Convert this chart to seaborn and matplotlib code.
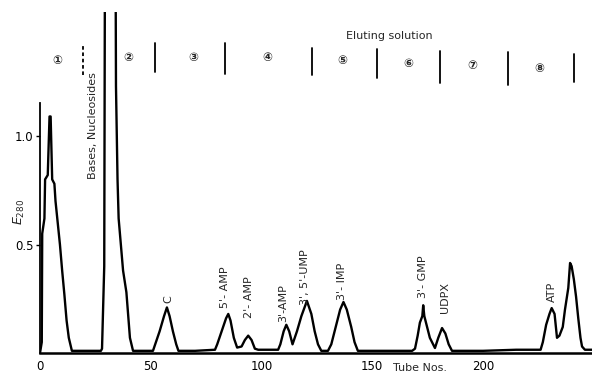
import matplotlib
matplotlib.use("Agg")
import matplotlib.pyplot as plt
import seaborn as sns
import pandas as pd

# ---- data ----
tube = [0, 0.8, 1, 2, 2.3, 3.5, 4.3, 4.8, 5.5, 6.5, 7, 8, 9, 10, 11, 12, 13, 14.4,
        20, 27.5,
        28, 29, 29.4, 34, 34.3, 35, 35.5, 37.5, 39, 40.6, 42,
        46, 51,
        52, 54, 56, 57.3, 58.5, 60, 61.5, 62.5,
        70, 79,
        80, 82, 84, 85, 86, 87.5, 89, 91, 92.5, 94, 95.5, 97, 98.5,
        104, 107.5,
        108.5, 110, 111.2, 112.5, 114, 116, 118, 120.5, 122.5, 124, 125.5, 127,
        130,
        131.5, 133.5, 135.5, 137, 138.5, 140.5, 142, 143.5,
        160, 168,
        169.3, 170.5, 171.5, 172.6, 173, 173.5, 174.5, 176, 178.3, 179.8, 181.5, 183, 184.5, 186,
        200, 215, 226,
        227, 228.5, 230, 231, 232.3, 233.4, 234.5, 236, 237, 238.5, 239.3, 240, 241, 242, 243, 244, 244.7, 246, 249.2]
absorbance = [0, 0.05, 0.55, 0.62, 0.8, 0.82, 1.09, 1.09, 0.8, 0.78, 0.7, 0.6, 0.5, 0.38, 0.27, 0.15, 0.07, 0.01,
              0.01, 0.01,
              0.02, 0.4, 2.2, 2.2, 1.23, 0.8, 0.62, 0.38, 0.28, 0.07, 0.01,
              0.01, 0.01,
              0.04, 0.1, 0.17, 0.21, 0.17, 0.1, 0.04, 0.01,
              0.01, 0.015,
              0.04, 0.1, 0.16, 0.18, 0.15, 0.07, 0.025, 0.03, 0.06, 0.08, 0.06, 0.02, 0.015,
              0.015, 0.015,
              0.04, 0.1, 0.13, 0.1, 0.04, 0.1, 0.17, 0.24, 0.18, 0.1, 0.04, 0.01,
              0.01,
              0.04, 0.12, 0.2, 0.235, 0.2, 0.12, 0.05, 0.01,
              0.01, 0.01,
              0.02, 0.08, 0.14, 0.17, 0.22, 0.17, 0.13, 0.07, 0.023, 0.07, 0.115, 0.09, 0.04, 0.01,
              0.01, 0.015, 0.015,
              0.05, 0.13, 0.18, 0.207, 0.18, 0.07, 0.08, 0.12, 0.2, 0.3, 0.415, 0.4, 0.34, 0.26, 0.16, 0.07, 0.03, 0.015, 0.015]

peak_labels = ["Bases, Nucleosides", "C", "5'- AMP", "2'- AMP", "3'-AMP",
               "3', 5'-UMP", "3'- IMP", "3'- GMP", "UDPX", "ATP"]
peak_label_x = [23.9, 57.8, 83.5, 94.4, 109.7, 119.6, 136.3, 172.9, 182.8, 231.2]
peak_label_y = [0.80, 0.23, 0.207, 0.161, 0.143, 0.221, 0.244, 0.253, 0.184, 0.235]

solution_labels = ["①", "②", "③", "④", "⑤", "⑥", "⑦", "⑧"]
solution_x = [7.7, 39.7, 69.1, 102.5, 136.3, 166.1, 195.0, 225.3]
solution_y = [1.35, 1.36, 1.36, 1.36, 1.35, 1.336, 1.327, 1.309]
divider_x = [19.4, 51.9, 83.5, 122.8, 152.1, 180.6, 211.3, 241.1]
divider_top = [1.419, 1.429, 1.429, 1.406, 1.401, 1.392, 1.387, 1.378]
divider_bottom = [1.281, 1.295, 1.286, 1.281, 1.267, 1.244, 1.235, 1.249]

x_ticks = [0, 50, 100, 150, 200]
y_ticks = [0.5, 1.0]
y_tick_labels = ["0.5", "1.0"]

# ---- plotting ----
sns.set_style("white")
plt.rcParams['font.family'] = ['DejaVu Sans', 'Noto Sans CJK JP']
plt.rcParams['mathtext.fontset'] = 'dejavusans'

df = pd.DataFrame({"tube": tube, "E": absorbance})

fig = plt.figure(figsize=(5.92, 3.72), dpi=100)
ax = fig.add_axes([40 / 592, 19 / 372, 552 / 592, 341 / 372])

sns.lineplot(data=df, x="tube", y="E", ax=ax, color="black", linewidth=1.7,
             estimator=None, sort=False)

ax.set_xlim(0, 249.2)
ax.set_ylim(0, 341 / 217)
ax.set_xlabel("")
ax.set_ylabel("")

ax.spines['top'].set_visible(False)
ax.spines['right'].set_visible(False)
ax.spines['left'].set_bounds(0, 1.15)
ax.spines['left'].set_linewidth(1.3)
ax.spines['bottom'].set_linewidth(1.8)
ax.spines['left'].set_color('black')
ax.spines['bottom'].set_color('black')

ax.set_xticks(x_ticks)
ax.set_xticklabels([str(t) for t in x_ticks])
ax.set_yticks(y_ticks)
ax.set_yticklabels(y_tick_labels)
ax.tick_params(axis='x', length=0, pad=5, labelsize=8.5, colors='black')
ax.tick_params(axis='y', direction='out', length=3, width=1, pad=1.5,
               labelsize=8.5, colors='black', left=True)

ax.text(171.6, -0.045, "Tube Nos.", ha="center", va="top", fontsize=8,
        clip_on=False)
fig.text(19 / 592, 1 - 212 / 372, r"$E_{280}$", rotation=90,
         ha="center", va="center", fontsize=9)

for lab, x, y in zip(peak_labels, peak_label_x, peak_label_y):
    ax.text(x, y, lab, rotation=90, ha="center", va="bottom", fontsize=8)

ax.text(157.5, 1.463, "Eluting solution", ha="center", va="center", fontsize=8)
for lab, x, y in zip(solution_labels, solution_x, solution_y):
    ax.text(x, y, lab, ha="center", va="center", fontsize=8.5, fontweight="bold")
for i, (x, y0, y1) in enumerate(zip(divider_x, divider_bottom, divider_top)):
    ls = (0, (2, 1.5)) if i == 0 else "-"
    ax.plot([x, x], [y0, y1], color="black", linewidth=1.3, linestyle=ls)

fig.savefig("out.png", dpi=100, facecolor="white")
